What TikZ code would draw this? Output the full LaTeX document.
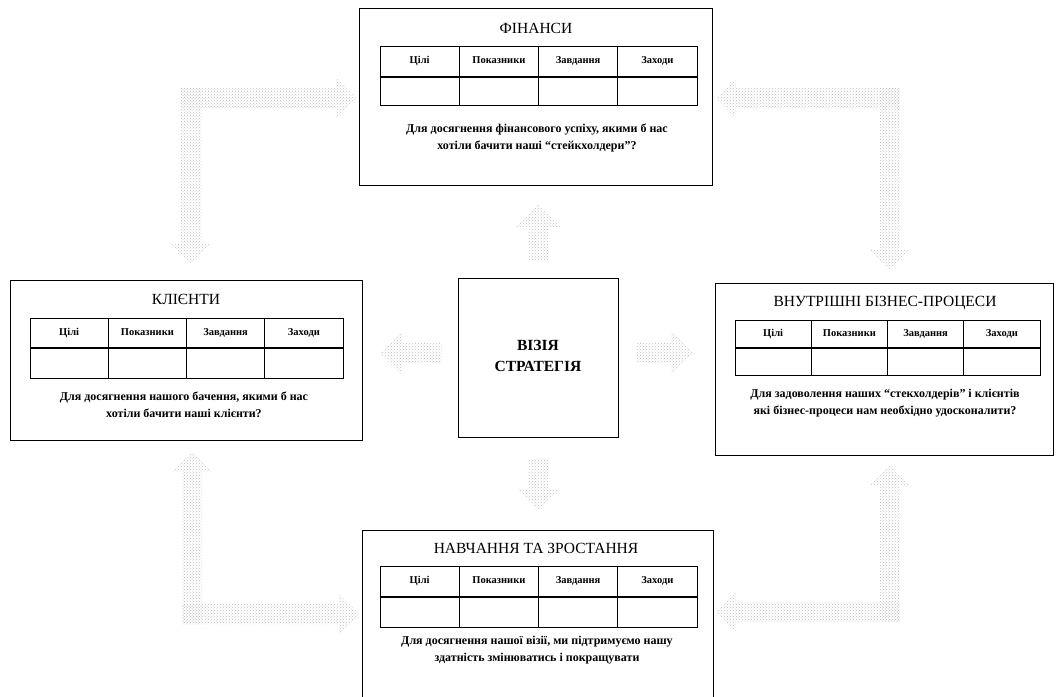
\documentclass[tikz,border=0pt]{standalone}
\usepackage{fontspec}
\setmainfont{Liberation Serif}
\usetikzlibrary{patterns,calc}

\tikzset{
  panel/.style={draw=black, line width=0.9pt, inner sep=0pt, anchor=north west},
  tbl/.style={draw=black, line width=0.8pt},
  ttl/.style={font=\fontsize{15.5}{18}\selectfont, inner sep=0pt},
  vis/.style={font=\bfseries\fontsize{15.5}{21}\selectfont, align=center, inner sep=0pt},
  hdr/.style={font=\bfseries\fontsize{10.5}{12}\selectfont, inner sep=0pt,
              text height=7pt, text depth=2.5pt},
  qst/.style={font=\bfseries\fontsize{12}{17}\selectfont, align=center, inner sep=0pt},
  stipple/.style={pattern=crosshatch dots, pattern color=gray!50},
}

% four-column scorecard table: prefix, left, top, right, header bottom, bottom
\newcommand\bsctable[6]{%
  \draw[tbl] (#2,#3) rectangle (#4,#6);
  \draw[tbl, line width=1.2pt] (#2,#5) -- (#4,#5);
  \foreach \i in {1,2,3}
    \draw[tbl] ({#2+\i*(#4-#2)/4},#3) -- ({#2+\i*(#4-#2)/4},#6);
  \foreach \i/\t in {0/Цілі,1/Показники,2/Завдання,3/Заходи}
    \node[hdr] (#1-h\i) at ({#2+(\i+0.5)*(#4-#2)/4},{(#3+#5)/2}) {\t};
}

% stippled block arrow from one named point to another:
% tail, tip, half shaft width, half head width, head length
\newcommand\fatarrow[5]{%
  \coordinate (fa-n) at ($(#2)!#5!(#1)$);
  \fill[stipple] ($(#1)!#3!90:(#2)$) -- ($(fa-n)!#3!90:(#2)$)
    -- ($(fa-n)!#4!90:(#2)$) -- (#2) -- ($(fa-n)!#4!-90:(#2)$)
    -- ($(fa-n)!#3!-90:(#2)$) -- ($(#1)!#3!-90:(#2)$) -- cycle;
}

\begin{document}
\begin{tikzpicture}[x=1pt,y=-1pt]
\useasboundingbox (0,0) rectangle (1059,696);

% perspective panels and the central vision box
\node[panel, minimum width=353pt, minimum height=177pt] (fin) at (359,8) {};
\node[panel, minimum width=352pt, minimum height=160pt] (cli) at (10,280) {};
\node[panel, minimum width=338pt, minimum height=172pt] (int) at (715,283) {};
\node[panel, minimum width=351pt, minimum height=175pt] (lrn) at (362,530) {};
\node[panel, minimum width=160pt, minimum height=159pt] (visbox) at (458,278) {};

% titles
\node[ttl] (fin-t) at (536,28) {ФІНАНСИ};
\node[ttl] (cli-t) at (186,299) {КЛІЄНТИ};
\node[ttl] (int-t) at (885,303) {ВНУТРІШНІ БІЗНЕС-ПРОЦЕСИ};
\node[ttl] (lrn-t) at (536,548) {НАВЧАННЯ ТА ЗРОСТАННЯ};
\node[vis] (vis-t) at (538,356) {ВІЗІЯ\\СТРАТЕГІЯ};

% tables
\bsctable{fin}{380}{46}{697}{77}{105}
\bsctable{cli}{30}{318}{343}{348}{378}
\bsctable{int}{735}{320}{1040}{348}{375}
\bsctable{lrn}{380}{566}{697}{597}{627}

% questions
\node[qst] (fin-q) at (537,138) {Для досягнення фінансового успіху, якими б нас\\хотіли бачити наші ``стейкхолдери''?};
\node[qst] (cli-q) at (184,405) {Для досягнення нашого бачення, якими б нас\\хотіли бачити наші клієнти?};
\node[qst] (int-q) at (885,403) {Для задоволення наших ``стекхолдерів'' і клієнтів\\які бізнес-процеси нам необхідно удосконалити?};
\node[qst] (lrn-q) at (537,650) {Для досягнення нашої візії, ми підтримуємо нашу\\здатність змінюватись і покращувати};

% arrows from the vision box to the panels
\coordinate (up-a) at ($(visbox.north)+(0,-18)$);
\coordinate (up-b) at ($(visbox.north)+(0,-73)$);
\coordinate (lf-a) at ($(visbox.west)+(-16,-5)$);
\coordinate (lf-b) at ($(visbox.west)+(-78,-5)$);
\coordinate (rt-a) at ($(visbox.east)+(18,-5)$);
\coordinate (rt-b) at ($(visbox.east)+(74,-5)$);
\coordinate (dn-a) at ($(visbox.south)+(0,21)$);
\coordinate (dn-b) at ($(visbox.south)+(0,73)$);
\fatarrow{up-a}{up-b}{10pt}{22pt}{22pt}
\fatarrow{lf-a}{lf-b}{10pt}{22pt}{22pt}
\fatarrow{rt-a}{rt-b}{10pt}{22pt}{22pt}
\fatarrow{dn-a}{dn-b}{10pt}{22pt}{22pt}

% cycle of links between neighbouring panels
\coordinate (tl-h) at (181,98);  \coordinate (tl-ht) at (356,98);
\coordinate (tl-v) at (191,88);  \coordinate (tl-vt) at (191,264);
\coordinate (tr-h) at (900,98);  \coordinate (tr-ht) at (716,98);
\coordinate (tr-v) at (890,88);  \coordinate (tr-vt) at (890,270);
\coordinate (bl-h) at (182,614); \coordinate (bl-ht) at (359,614);
\coordinate (bl-v) at (192,624); \coordinate (bl-vt) at (192,452);
\coordinate (br-h) at (900,612); \coordinate (br-ht) at (716,612);
\coordinate (br-v) at (890,622); \coordinate (br-vt) at (890,465);
\fatarrow{tl-h}{tl-ht}{10pt}{20pt}{20pt}
\fatarrow{tl-v}{tl-vt}{10pt}{20pt}{20pt}
\fatarrow{tr-h}{tr-ht}{10pt}{20pt}{20pt}
\fatarrow{tr-v}{tr-vt}{10pt}{20pt}{20pt}
\fatarrow{bl-h}{bl-ht}{10pt}{20pt}{20pt}
\fatarrow{bl-v}{bl-vt}{10pt}{20pt}{20pt}
\fatarrow{br-h}{br-ht}{10pt}{20pt}{20pt}
\fatarrow{br-v}{br-vt}{10pt}{20pt}{20pt}
\end{tikzpicture}
\end{document}
